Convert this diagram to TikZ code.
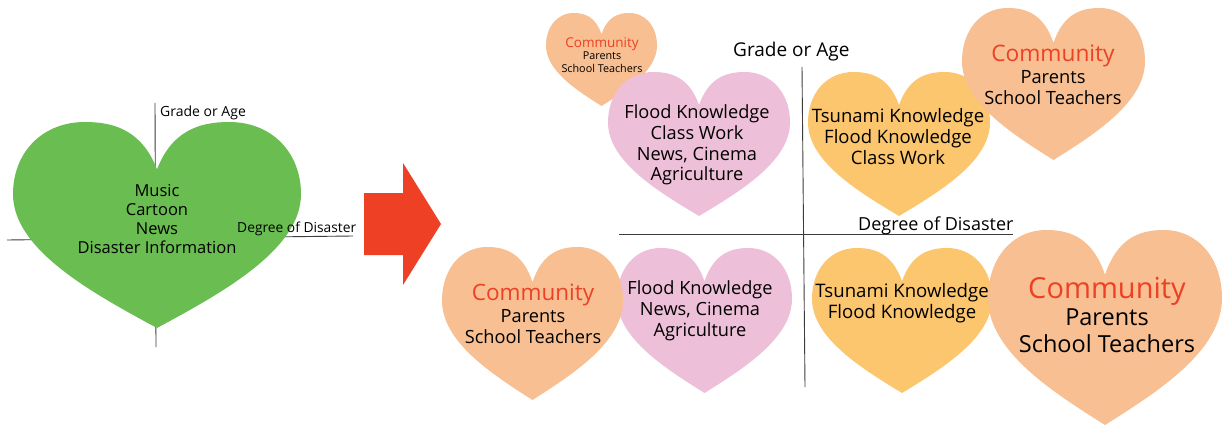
\documentclass[tikz,border=0pt]{standalone}
\usepackage{fontspec}
\setmainfont{Open Sans}
\definecolor{hgreen}{RGB}{106,189,80}
\definecolor{hpink}{RGB}{238,191,217}
\definecolor{hyellow}{RGB}{252,198,110}
\definecolor{hpeach}{RGB}{247,191,146}
\definecolor{hred}{RGB}{238,64,37}
\definecolor{axisgray}{RGB}{60,60,60}
\newcommand{\myheart}[5]{% cx, top, bottom, halfwidth, colour
  \fill[#5, shift={(#1,#3)}, xscale=#4, yscale={#3-#2}]
    (0,-0.77) .. controls (-0.1,-0.95) and (-0.28,-1) .. (-0.5,-1)
    .. controls (-0.8,-1) and (-1,-0.85) .. (-1,-0.65)
    .. controls (-1,-0.38) and (-0.45,-0.17) .. (0,0)
    .. controls (0.45,-0.17) and (1,-0.38) .. (1,-0.65)
    .. controls (1,-0.85) and (0.8,-1) .. (0.5,-1)
    .. controls (0.28,-1) and (0.1,-0.95) .. (0,-0.77) -- cycle;}
\tikzset{
  axisline/.style={draw=axisgray, line width=0.9pt},
  htext/.style={align=center, text=black, inner sep=0pt},
  alabel/.style={anchor=west, inner sep=0pt, text=black},
}
\begin{document}
\begin{tikzpicture}[x=1pt, y=-1pt]
\useasboundingbox (0,0) rectangle (1223,425);
\fill[white] (0,0) rectangle (1223,425);
% ---- left part
\coordinate (lvt) at (155,103);
\coordinate (lvb) at (156,347);
\coordinate (lhl) at (7,240);
\coordinate (lhr) at (353,236);
\draw[axisline] (lvt) -- (lvb);
\draw[axisline] (lhl) -- (lhr);
\myheart{157}{122}{328}{144}{hgreen}
\node[htext, font=\fontsize{16.5}{19}\selectfont] (greentext) at (157,219)
  {Music\\Cartoon\\News\\Disaster Information};
\node[alabel, font=\fontsize{14}{16}\selectfont] (lgrade) at (160,113) {Grade or Age};
\node[alabel, font=\fontsize{13.8}{16}\selectfont] (ldeg) at (237,229) {Degree of Disaster};
% ---- arrow
\fill[hred] (364,193) -- (403,193) -- (403,163) -- (441,224) -- (403,285) -- (403,255) -- (364,255) -- cycle;
% ---- right axes
\coordinate (rvt) at (802,67);
\coordinate (rvb) at (805,387);
\coordinate (rhl) at (619,234);
\coordinate (rhr) at (1013,234);
\draw[axisline] (rvt) -- (rvb);
\draw[axisline] (rhl) -- (rhr);
\node[alabel, font=\fontsize{19}{22}\selectfont] (rgrade) at (733,52) {Grade or Age};
\node[alabel, font=\fontsize{18}{21}\selectfont] (rdeg) at (858,226) {Degree of Disaster};
% ---- top hearts
\myheart{601.5}{13}{106}{55.5}{hpeach}
\node[htext, font=\fontsize{10.8}{12.5}\selectfont] (smalltext) at (602,55)
  {{\fontsize{13.5}{12.5}\selectfont\color{hred}Community}\\Parents\\School Teachers};
\myheart{699}{72}{216}{91}{hpink}
\node[htext, font=\fontsize{18.2}{20.7}\selectfont] (pinktop) at (697,145)
  {Flood Knowledge\\Class Work\\News, Cinema\\Agriculture};
\myheart{899}{72}{216}{91}{hyellow}
\node[htext, font=\fontsize{18.5}{21}\selectfont] (yellowtop) at (898,137)
  {Tsunami Knowledge\\Flood Knowledge\\Class Work};
\myheart{1053.5}{8}{160}{91.5}{hpeach}
\node[htext, font=\fontsize{18.3}{21.5}\selectfont] (peachtop) at (1053,75)
  {{\fontsize{22.7}{23}\selectfont\color{hred}Community}\\Parents\\School Teachers};
% ---- bottom hearts
\myheart{704.5}{248}{393}{87.5}{hpink}
\myheart{532.5}{247}{400}{90.5}{hpeach}
\node[htext, font=\fontsize{18.2}{21.5}\selectfont] (peachbl) at (533,314)
  {{\fontsize{22.5}{23}\selectfont\color{hred}Community}\\Parents\\School Teachers};
\node[htext, font=\fontsize{18.2}{21}\selectfont] (pinkbot) at (700,311)
  {Flood Knowledge\\News, Cinema\\Agriculture};
\myheart{902}{248}{393}{90}{hyellow}
\myheart{1105}{230}{425}{117}{hpeach}
\node[htext, font=\fontsize{18.6}{21}\selectfont] (yellowbot) at (902,303)
  {Tsunami Knowledge\\Flood Knowledge};
\node[htext, font=\fontsize{23.5}{27}\selectfont] (peachbr) at (1107,315)
  {{\fontsize{29}{29}\selectfont\color{hred}Community}\\Parents\\School Teachers};
\end{tikzpicture}
\end{document}
